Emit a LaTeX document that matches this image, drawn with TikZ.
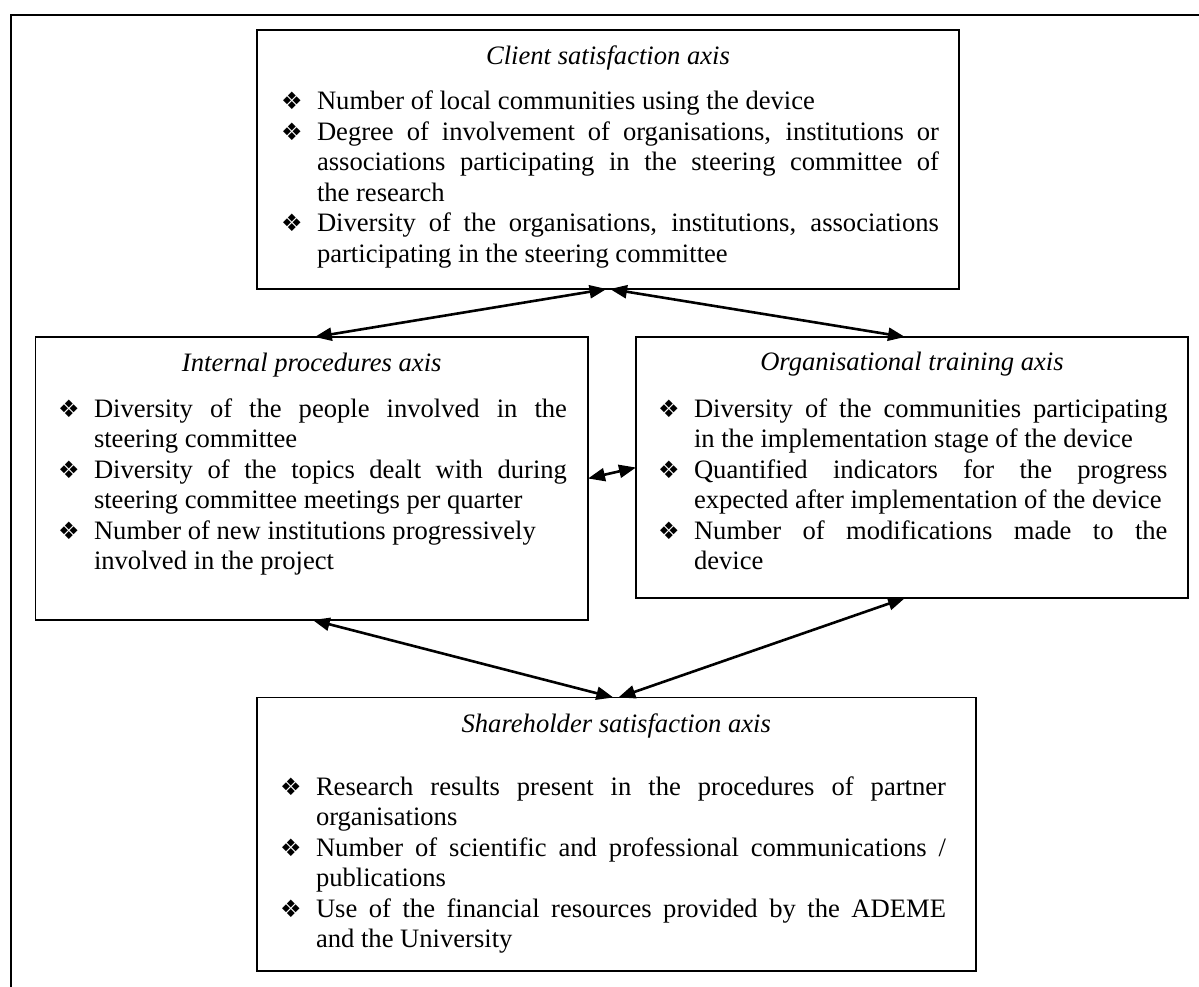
\documentclass[tikz,border=0pt]{standalone}
\usepackage{fontspec}
\setmainfont{Liberation Serif}
\newfontfamily\dvfont{DejaVu Sans}
\usetikzlibrary{arrows.meta,calc}
\newcommand{\bul}{{\dvfont\fontsize{24}{24}\selectfont ❖}}
\newcommand{\bitem}[1]{\noindent\hangindent=36pt\hangafter=1\makebox[36pt][l]{\bul}#1\par}
\begin{document}
\begin{tikzpicture}[x=1pt,y=-1pt,
  every node/.style={font=\fontsize{26.6}{30.5}\selectfont, inner sep=0pt, outer sep=0pt},
  box/.style={draw, line width=1.8pt, anchor=north west},
  axistitle/.style={anchor=base, font=\fontsize{26.6}{30.5}\selectfont\itshape},
  body/.style={anchor=base west, align=justify},
  link/.style={line width=2.6pt, {Triangle[length=17pt,width=13pt]}-{Triangle[length=17pt,width=13pt]}},
  frame/.style={line width=2pt}]
\useasboundingbox (0,0) rectangle (1199,987);
% outer frame (open at right and bottom)
\coordinate (fA) at (11,987);
\coordinate (fB) at (11,15);
\coordinate (fC) at (1199,15);
\draw[frame] (fA) -- (fB) -- (fC);
% boxes
\node[box, minimum width=702pt, minimum height=259pt] (client) at (257,30) {};
\node[box, minimum width=552.5pt, minimum height=283pt] (internal) at (35.5,337) {};
\node[box, minimum width=552pt, minimum height=261pt] (org) at (636,337) {};
\node[box, minimum width=719.3pt, minimum height=273.5pt] (share) at (256.7,697.5) {};
% titles
\node[axistitle] (clientT) at (608,64.5) {Client satisfaction axis};
\node[axistitle] (internalT) at (311.75,371.7) {Internal procedures axis};
\node[axistitle] (orgT) at (912,370.5) {Organisational training axis};
\node[axistitle] (shareT) at (616.3,732) {Shareholder satisfaction axis};
% bodies
\node[body, text width=658pt] (clientB) at (281,110) {%
\bitem{Number of local communities using the device}
\bitem{Degree of involvement of organisations, institutions or\linebreak associations participating in the steering committee of\linebreak the research}
\bitem{Diversity of the organisations, institutions, associations\linebreak participating in the steering committee}};
\node[body, text width=509pt] (internalB) at (58,417) {%
\bitem{Diversity of the people involved in the\linebreak steering committee}
\bitem{Diversity of the topics dealt with during\linebreak steering committee meetings per quarter}
\bitem{Number of new institutions progressively\newline involved in the project}};
\node[body, text width=509.5pt] (orgB) at (658,417) {%
\bitem{Diversity of the communities participating\linebreak in the implementation stage of the device}
\bitem{Quantified indicators for the progress\linebreak expected after implementation of the device}
\bitem{Number of modifications made to the\linebreak device}};
\node[body, text width=666pt] (shareB) at (280,795) {%
\bitem{Research results present in the procedures of partner\linebreak organisations}
\bitem{Number of scientific and professional communications /\linebreak publications}
\bitem{Use of the financial resources provided by the ADEME\linebreak and the University}};
% connectors
\draw[link] ($(client.south)+(-1.5,0)$) -- ($(internal.north)+(3,0)$);
\draw[link] ($(client.south)+(2,0)$) -- ($(org.north)+(-7,0)$);
\draw[link] (internal.east) -- (org.west);
\draw[link] ($(internal.south)+(1,0)$) -- ($(share.north)+(-3,0)$);
\draw[link] ($(org.south)+(-7,0)$) -- ($(share.north)+(2,0)$);
\end{tikzpicture}
\end{document}
